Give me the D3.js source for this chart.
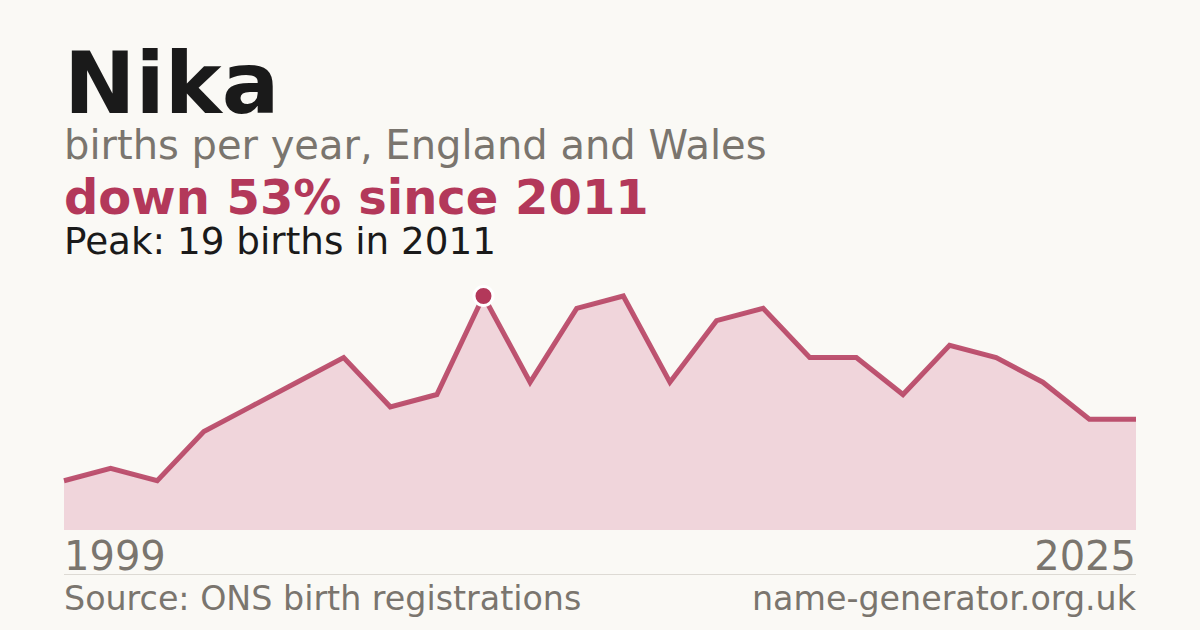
<!DOCTYPE html>
<html>
<head>
<meta charset="utf-8">
<script src="https://cdn.jsdelivr.net/npm/d3@7"></script>
<style>
  html, body { margin: 0; padding: 0; background: #faf9f5; }
  svg { display: block; font-family: "DejaVu Sans", sans-serif; }
</style>
</head>
<body>
<script>
// Years with registered births (gaps where fewer than 3 births were recorded)
const years = [1999, 2001, 2003, 2004, 2005, 2006, 2008, 2009, 2010, 2011, 2012, 2013,
               2014, 2015, 2016, 2017, 2018, 2019, 2020, 2021, 2022, 2023, 2024, 2025];
const births = [4, 5, 4, 8, 10, 12, 14, 10, 11, 19, 12, 18,
                19, 12, 17, 18, 14, 14, 11, 15, 14, 12, 9, 9];

const name = "Nika";
const subtitle = "births per year, England and Wales";
const source = "Source: ONS birth registrations";
const site = "name-generator.org.uk";

const width = 1200;
const height = 630;
const red = "#b3385a";
const grey = "#7a756e";

const svg = d3.select("body").append("svg")
    .attr("width", width)
    .attr("height", height);

svg.append("rect")
    .attr("width", width)
    .attr("height", height)
    .attr("fill", "#faf9f5");

const data = years.map((y, i) => ({ year: y, value: births[i] }));

const peak = data.reduce((a, b) => (b.value > a.value ? b : a));
const last = data[data.length - 1];
const change = Math.round((1 - last.value / peak.value) * 100);

// header text
svg.append("text")
    .attr("x", 64).attr("y", 113)
    .attr("font-size", 85.5).attr("font-weight", "bold")
    .attr("fill", "#1a1a1a")
    .text(name);

svg.append("text")
    .attr("x", 64).attr("y", 159)
    .attr("font-size", 40)
    .attr("fill", grey)
    .text(subtitle);

svg.append("text")
    .attr("x", 64).attr("y", 214)
    .attr("font-size", 48)
    .attr("font-weight", "bold")
    .attr("fill", red)
    .text(`down ${change}% since ${peak.year}`);

svg.append("text")
    .attr("x", 64).attr("y", 254)
    .attr("font-size", 37.3)
    .attr("fill", "#1a1a1a")
    .text(`Peak: ${peak.value} births in ${peak.year}`);

// chart
const x = d3.scalePoint()
    .domain(years)
    .range([64, 1136]);

const y = d3.scaleLinear()
    .domain([0, peak.value])
    .range([530, 296]);

const area = d3.area()
    .x(d => x(d.year))
    .y0(y(0))
    .y1(d => y(d.value));

const line = d3.line()
    .x(d => x(d.year))
    .y(d => y(d.value));

svg.append("path")
    .datum(data)
    .attr("d", area)
    .attr("fill", "#f0d5db");

svg.append("path")
    .datum(data)
    .attr("d", line)
    .attr("fill", "none")
    .attr("stroke", red)
    .attr("stroke-width", 5)
    .attr("stroke-linejoin", "miter")
    .attr("opacity", 0.85);

svg.append("circle")
    .attr("cx", x(peak.year))
    .attr("cy", y(peak.value))
    .attr("r", 9.5)
    .attr("fill", red)
    .attr("stroke", "#ffffff")
    .attr("stroke-width", 3);

// year labels
svg.append("text")
    .attr("x", x(years[0])).attr("y", 570)
    .attr("font-size", 40)
    .attr("fill", grey)
    .text(years[0]);

svg.append("text")
    .attr("x", x(last.year)).attr("y", 570)
    .attr("font-size", 40)
    .attr("text-anchor", "end")
    .attr("fill", grey)
    .text(last.year);

svg.append("line")
    .attr("x1", 64).attr("x2", 1136)
    .attr("y1", 574.5).attr("y2", 574.5)
    .attr("stroke", "#dddad4")
    .attr("stroke-width", 1);

// footer
svg.append("text")
    .attr("x", 64).attr("y", 610)
    .attr("font-size", 33.3)
    .attr("fill", grey)
    .text(source);

svg.append("text")
    .attr("x", 1136).attr("y", 610)
    .attr("font-size", 33.3)
    .attr("text-anchor", "end")
    .attr("fill", grey)
    .text(site);
</script>
</body>
</html>
